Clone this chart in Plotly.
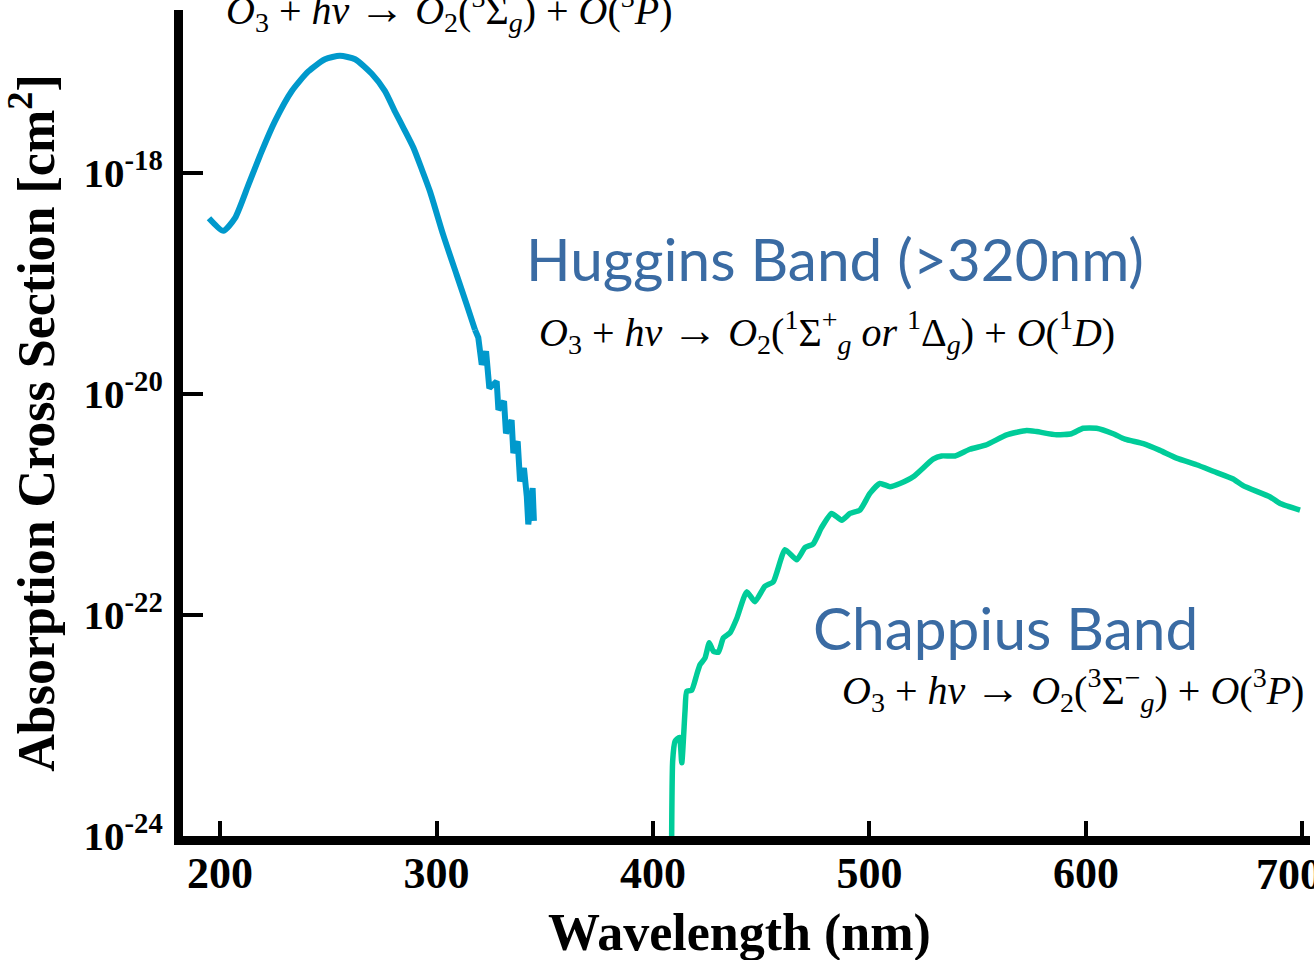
import plotly.graph_objects as go

# ---- data ----
hartley_wl = [194.9, 201.5, 206.9, 213.1, 219.3, 225.4, 233.1, 240.8, 248.5, 255.4,
              262.4, 270.1, 276.2, 280.8, 285.0, 289.3, 293.2, 297.0, 303.1, 309.3, 313.9, 317.8]
hartley_xs = [3.9e-19, 3.0e-19, 3.9e-19, 7.8e-19, 1.58e-18, 2.95e-18, 5.5e-18, 8.3e-18,
              1.07e-17, 1.15e-17, 1.07e-17, 7.9e-18, 5.5e-18, 3.6e-18, 2.5e-18, 1.7e-18,
              1.08e-18, 6.8e-19, 2.75e-19, 1.2e-19, 6.5e-20, 3.8e-20]

huggins_wl = [317.8, 319.3, 320.9, 322.9, 324.4, 327.8, 328.6, 331.2, 332.1, 334.7,
              335.5, 337.5, 338.6, 340.4, 341.7, 342.4, 344.4, 345.0]
huggins_xs = [3.8e-20, 3.24e-20, 1.84e-20, 2.43e-20, 1.13e-20, 1.30e-20, 7.2e-21, 8.6e-21,
              4.4e-21, 5.8e-21, 2.92e-21, 3.73e-21, 1.62e-21, 2.14e-21, 1.19e-21, 6.6e-22,
              1.41e-21, 7.1e-22]

chappius_wl = [408.6, 409.1, 410.2, 412.2, 413.3, 414.8, 415.6, 417.9, 420.2, 421.7,
               424.0, 426.0, 427.9, 430.2, 432.5, 435.6, 438.7, 443.3, 447.1, 451.7,
               455.6, 461.0, 466.4, 470.2, 474.0, 477.9, 482.5, 487.2, 491.0, 495.6,
               500.2, 504.8, 509.5, 514.1, 520.2, 529.4, 533.3, 539.5, 546.4, 554.1,
               563.4, 572.6, 577.2, 586.4, 593.3, 598.7, 604.9, 612.6, 618.0, 626.5,
               634.2, 641.9, 651.1, 658.8, 668.0, 672.6, 685.1, 689.7, 698.9]
chappius_xs = [7.9e-25, 4.8e-24, 7.2e-24, 7.8e-24, 4.6e-24, 1.35e-23, 2.04e-23, 2.09e-23,
               2.88e-23, 3.55e-23, 4.07e-23, 5.6e-23, 4.7e-23, 4.6e-23, 6.2e-23, 6.9e-23,
               9.3e-23, 1.62e-22, 1.32e-22, 1.82e-22, 2.0e-22, 3.9e-22, 3.16e-22, 4.07e-22,
               4.4e-22, 6.2e-22, 8.3e-22, 7.2e-22, 8.3e-22, 8.9e-22, 1.26e-21, 1.55e-21,
               1.45e-21, 1.55e-21, 1.78e-21, 2.57e-21, 2.75e-21, 2.75e-21, 3.16e-21,
               3.47e-21, 4.27e-21, 4.68e-21, 4.57e-21, 4.27e-21, 4.37e-21, 4.9e-21, 4.9e-21,
               4.37e-21, 3.9e-21, 3.55e-21, 3.09e-21, 2.63e-21, 2.29e-21, 2.0e-21, 1.7e-21,
               1.48e-21, 1.17e-21, 1.02e-21, 8.9e-22]

x_ticks = [200, 300, 400, 500, 600, 700]
x_ticktext = ["200", "300", "400", "500", "600", "700"]
y_ticks = [1e-24, 1e-22, 1e-20, 1e-18]
y_ticktext = ["10<sup>-24</sup>", "10<sup>-22</sup>", "10<sup>-20</sup>", "10<sup>-18</sup>"]

BLUE = "#0099CC"
GREEN = "#00CC99"
LABEL = "#3A6BA3"
SERIF = "Liberation Serif"
SANS = "Lato"

fig = go.Figure()
fig.add_trace(go.Scatter(x=hartley_wl, y=hartley_xs, mode="lines",
                         line=dict(color=BLUE, width=6, shape="spline", smoothing=0.6),
                         showlegend=False))
fig.add_trace(go.Scatter(x=huggins_wl, y=huggins_xs, mode="lines",
                         line=dict(color=BLUE, width=6), showlegend=False))
fig.add_trace(go.Scatter(x=chappius_wl, y=chappius_xs, mode="lines",
                         line=dict(color=GREEN, width=5.5, shape="spline", smoothing=0.5),
                         showlegend=False))

ARROW = '<span style="font-size:46px">→</span>'
eq_hartley = ("<i>O</i><sub>3</sub> + <i>hv</i> " + ARROW + " <i>O</i><sub>2</sub>(<sup>3</sup>Σ<sub><i>g</i></sub>)"
              " + <i>O</i>(<sup>3</sup><i>P</i>)")
eq_huggins = ("<i>O</i><sub>3</sub> + <i>hv</i> " + ARROW + " <i>O</i><sub>2</sub>(<sup>1</sup>Σ<sup>+</sup><sub><i>g</i></sub>"
              " <i>or</i> <sup>1</sup>Δ<sub><i>g</i></sub>) + <i>O</i>(<sup>1</sup><i>D</i>)")
eq_chappius = ("<i>O</i><sub>3</sub> + <i>hv</i> " + ARROW + " <i>O</i><sub>2</sub>(<sup>3</sup>Σ<sup>−</sup><sub><i>g</i></sub>)"
               " + <i>O</i>(<sup>3</sup><i>P</i>)")

L, R, T, B = 183, 1310, 10, 836


def px(x):
    return (x - L) / (R - L)


def py(y):
    return (B - y) / (B - T)


annots = [
    dict(text=eq_hartley, x=px(449), y=py(10), font=dict(family=SERIF, size=40, color="black")),
    dict(text="Huggins Band (>320nm)", x=px(835), y=py(258), font=dict(family=SANS, size=58.5, color=LABEL)),
    dict(text=eq_huggins, x=px(827), y=py(332), font=dict(family=SERIF, size=40, color="black")),
    dict(text="Chappius Band", x=px(1005), y=py(627), font=dict(family=SANS, size=58.5, color=LABEL)),
    dict(text=eq_chappius, x=px(1073), y=py(690), font=dict(family=SERIF, size=40, color="black")),
    dict(text="<b>Wavelength (nm)</b>", x=px(739), y=py(933),
         font=dict(family=SERIF, size=52, color="black")),
    # last x tick label, pulled inward so it stays on the page as in the reference
    dict(text="<b>" + x_ticktext[-1] + "</b>", x=px(1289), y=py(874),
         font=dict(family=SERIF, size=44, color="black")),
]
for a in annots:
    fig.add_annotation(xref="paper", yref="paper", showarrow=False,
                       xanchor="center", yanchor="middle", **a)

fig.update_xaxes(range=[182.9, 703.5], showline=True, linecolor="black", linewidth=9,
                 ticks="inside", ticklen=15, tickwidth=4, tickcolor="black",
                 tickvals=x_ticks, ticktext=x_ticktext[:-1] + [""], showgrid=False, zeroline=False,
                 automargin=False, ticklabelstandoff=-10, ticklabeloverflow="allow",
                 tickfont=dict(family=SERIF, size=44, color="black", weight="bold"))
fig.update_yaxes(type="log", range=[-24.0, -16.525], showline=True, linecolor="black", linewidth=9,
                 ticks="inside", ticklen=20, tickwidth=4, tickcolor="black",
                 tickvals=y_ticks, ticktext=y_ticktext, showgrid=False, zeroline=False,
                 automargin=False, ticklabelstandoff=3, ticklabeloverflow="allow",
                 tickfont=dict(family=SERIF, size=41, color="black", weight="bold"),
                 title=dict(text="Absorption Cross Section [cm<sup>2</sup>]", standoff=18,
                            font=dict(family=SERIF, size=52, color="black", weight="bold")))

fig.update_layout(width=1314, height=960, margin=dict(l=L, r=1314 - R, t=T, b=960 - B),
                  paper_bgcolor="white", plot_bgcolor="white", showlegend=False)

fig.write_html("out.html", config={"displayModeBar": False},
               post_script="document.body.style.margin='0px';")
